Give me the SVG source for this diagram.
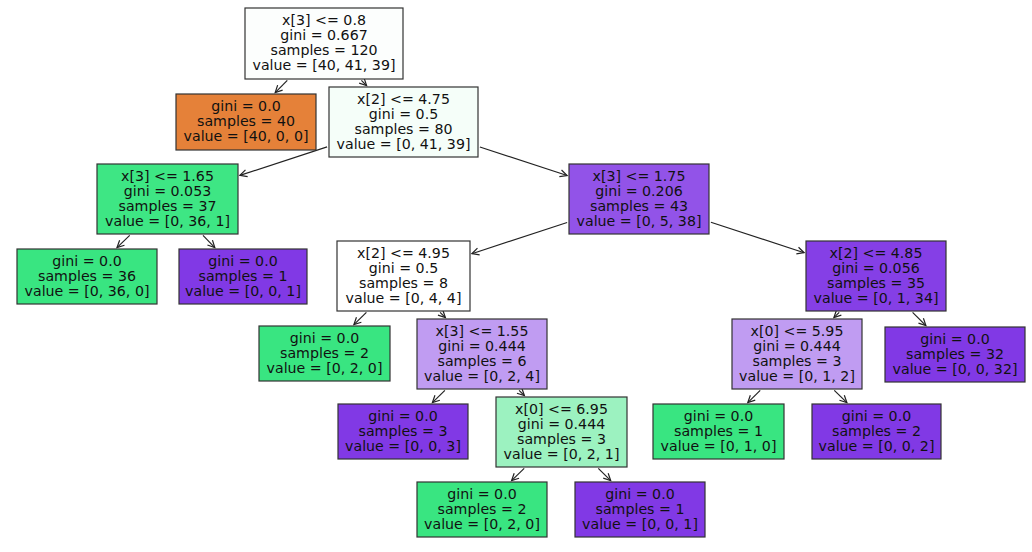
<svg xmlns="http://www.w3.org/2000/svg" width="1032" height="552" viewBox="0 0 1032 552">
<style>
.box{stroke:#333;stroke-width:1.2}
.t{font-family:"DejaVu Sans",sans-serif;font-size:14.2px;fill:#111;text-anchor:middle}
.e{stroke:#222;stroke-width:1.2;fill:none;marker-end:url(#ah)}
.g{fill:#39e581}.p{fill:#8139e5}.o{fill:#e58139}
</style>
<defs>
<marker id="ah" markerUnits="userSpaceOnUse" markerWidth="10" markerHeight="10" refX="8" refY="5" orient="auto">
<path d="M1,1.5 L8,5 L1,8.5" fill="none" stroke="#222" stroke-width="1.2"/>
</marker>
</defs>
<rect width="1032" height="552" fill="#fff"/>
<g id="edges">
<line class="e" x1="287.3" y1="80.4" x2="275.2" y2="92.6"/>
<line class="e" x1="361.4" y1="80.4" x2="366.6" y2="85.6"/>
<line class="e" x1="327.1" y1="146.9" x2="239.9" y2="175.4"/>
<line class="e" x1="479.9" y1="147" x2="567.1" y2="175.5"/>
<line class="e" x1="129.7" y1="235.4" x2="117" y2="247.6"/>
<line class="e" x1="203" y1="235.4" x2="214.8" y2="247.6"/>
<line class="e" x1="567.1" y1="222.5" x2="471.9" y2="253.7"/>
<line class="e" x1="710.9" y1="222.3" x2="804.1" y2="252.7"/>
<line class="e" x1="366.4" y1="312.4" x2="353.9" y2="324.6"/>
<line class="e" x1="440.1" y1="312.4" x2="445.4" y2="317.6"/>
<line class="e" x1="444.9" y1="390.4" x2="432.4" y2="402.6"/>
<line class="e" x1="519.1" y1="390.4" x2="524.4" y2="395.6"/>
<line class="e" x1="524.2" y1="468.4" x2="511.6" y2="480.6"/>
<line class="e" x1="598.3" y1="468.4" x2="610.7" y2="480.6"/>
<line class="e" x1="839.2" y1="312.4" x2="833.9" y2="317.6"/>
<line class="e" x1="912.6" y1="312.4" x2="925.9" y2="325.6"/>
<line class="e" x1="760.2" y1="390.4" x2="747.8" y2="402.6"/>
<line class="e" x1="834.3" y1="390.4" x2="846.9" y2="402.6"/>
</g>
<g id="n0"><rect class="box" x="245" y="8" width="158" height="71" fill="#fcfefd"/>
<text class="t"><tspan x="324" y="25">x[3] &lt;= 0.8</tspan><tspan x="324" y="40">gini = 0.667</tspan><tspan x="324" y="55">samples = 120</tspan><tspan x="324" y="70">value = [40, 41, 39]</tspan></text></g>
<g id="n1"><rect class="box o" x="176" y="94" width="140" height="56"/>
<text class="t"><tspan x="246" y="111">gini = 0.0</tspan><tspan x="246" y="126">samples = 40</tspan><tspan x="246" y="141">value = [40, 0, 0]</tspan></text></g>
<g id="n2"><rect class="box" x="329" y="87" width="149" height="70" fill="#f5fef9"/>
<text class="t"><tspan x="403.5" y="104">x[2] &lt;= 4.75</tspan><tspan x="403.5" y="119">gini = 0.5</tspan><tspan x="403.5" y="134">samples = 80</tspan><tspan x="403.5" y="149">value = [0, 41, 39]</tspan></text></g>
<g id="n3"><rect class="box" x="97" y="164" width="141" height="70" fill="#3ee684"/>
<text class="t"><tspan x="167.5" y="181">x[3] &lt;= 1.65</tspan><tspan x="167.5" y="196">gini = 0.053</tspan><tspan x="167.5" y="211">samples = 37</tspan><tspan x="167.5" y="226">value = [0, 36, 1]</tspan></text></g>
<g id="n4"><rect class="box g" x="17" y="249" width="140" height="55"/>
<text class="t"><tspan x="87" y="266">gini = 0.0</tspan><tspan x="87" y="281">samples = 36</tspan><tspan x="87" y="296">value = [0, 36, 0]</tspan></text></g>
<g id="n5"><rect class="box p" x="179" y="249" width="128" height="55"/>
<text class="t"><tspan x="243" y="266">gini = 0.0</tspan><tspan x="243" y="281">samples = 1</tspan><tspan x="243" y="296">value = [0, 0, 1]</tspan></text></g>
<g id="n6"><rect class="box" x="569" y="164" width="140" height="70" fill="#9253e8"/>
<text class="t"><tspan x="639" y="181">x[3] &lt;= 1.75</tspan><tspan x="639" y="196">gini = 0.206</tspan><tspan x="639" y="211">samples = 43</tspan><tspan x="639" y="226">value = [0, 5, 38]</tspan></text></g>
<g id="n7"><rect class="box" x="337" y="241" width="133" height="70" fill="#ffffff"/>
<text class="t"><tspan x="403.5" y="258">x[2] &lt;= 4.95</tspan><tspan x="403.5" y="273">gini = 0.5</tspan><tspan x="403.5" y="288">samples = 8</tspan><tspan x="403.5" y="303">value = [0, 4, 4]</tspan></text></g>
<g id="n8"><rect class="box g" x="259" y="326" width="131" height="55"/>
<text class="t"><tspan x="324.5" y="343">gini = 0.0</tspan><tspan x="324.5" y="358">samples = 2</tspan><tspan x="324.5" y="373">value = [0, 2, 0]</tspan></text></g>
<g id="n9"><rect class="box" x="417" y="319" width="130" height="70" fill="#c09cf2"/>
<text class="t"><tspan x="482" y="336">x[3] &lt;= 1.55</tspan><tspan x="482" y="351">gini = 0.444</tspan><tspan x="482" y="366">samples = 6</tspan><tspan x="482" y="381">value = [0, 2, 4]</tspan></text></g>
<g id="n10"><rect class="box p" x="338" y="404" width="130" height="55"/>
<text class="t"><tspan x="403" y="421">gini = 0.0</tspan><tspan x="403" y="436">samples = 3</tspan><tspan x="403" y="451">value = [0, 0, 3]</tspan></text></g>
<g id="n11"><rect class="box" x="496" y="397" width="131" height="70" fill="#9cf2c0"/>
<text class="t"><tspan x="561.5" y="414">x[0] &lt;= 6.95</tspan><tspan x="561.5" y="429">gini = 0.444</tspan><tspan x="561.5" y="444">samples = 3</tspan><tspan x="561.5" y="459">value = [0, 2, 1]</tspan></text></g>
<g id="n12"><rect class="box g" x="417" y="482" width="130" height="55"/>
<text class="t"><tspan x="482" y="499">gini = 0.0</tspan><tspan x="482" y="514">samples = 2</tspan><tspan x="482" y="529">value = [0, 2, 0]</tspan></text></g>
<g id="n13"><rect class="box p" x="575" y="482" width="130" height="55"/>
<text class="t"><tspan x="640" y="499">gini = 0.0</tspan><tspan x="640" y="514">samples = 1</tspan><tspan x="640" y="529">value = [0, 0, 1]</tspan></text></g>
<g id="n14"><rect class="box" x="806" y="241" width="140" height="70" fill="#853fe6"/>
<text class="t"><tspan x="876" y="258">x[2] &lt;= 4.85</tspan><tspan x="876" y="273">gini = 0.056</tspan><tspan x="876" y="288">samples = 35</tspan><tspan x="876" y="303">value = [0, 1, 34]</tspan></text></g>
<g id="n15"><rect class="box" x="732" y="319" width="130" height="70" fill="#c09cf2"/>
<text class="t"><tspan x="797" y="336">x[0] &lt;= 5.95</tspan><tspan x="797" y="351">gini = 0.444</tspan><tspan x="797" y="366">samples = 3</tspan><tspan x="797" y="381">value = [0, 1, 2]</tspan></text></g>
<g id="n16"><rect class="box p" x="885" y="327" width="140" height="55"/>
<text class="t"><tspan x="955" y="344">gini = 0.0</tspan><tspan x="955" y="359">samples = 32</tspan><tspan x="955" y="374">value = [0, 0, 32]</tspan></text></g>
<g id="n17"><rect class="box g" x="653" y="404" width="131" height="55"/>
<text class="t"><tspan x="718.5" y="421">gini = 0.0</tspan><tspan x="718.5" y="436">samples = 1</tspan><tspan x="718.5" y="451">value = [0, 1, 0]</tspan></text></g>
<g id="n18"><rect class="box p" x="812" y="404" width="129" height="55"/>
<text class="t"><tspan x="876.5" y="421">gini = 0.0</tspan><tspan x="876.5" y="436">samples = 2</tspan><tspan x="876.5" y="451">value = [0, 0, 2]</tspan></text></g>
</svg>
